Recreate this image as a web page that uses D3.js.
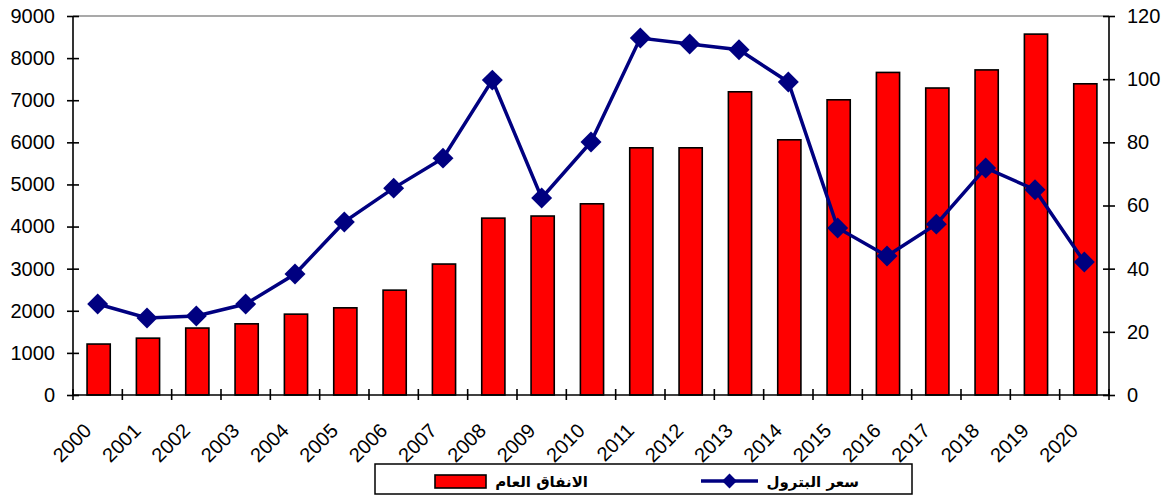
<!DOCTYPE html>
<html><head><meta charset="utf-8">
<script src="https://cdn.jsdelivr.net/npm/d3@7"></script>
<style>
html,body{margin:0;padding:0;background:#fff;}
svg{display:block;}
.tk text{font-family:"Liberation Sans",Arial,sans-serif;font-size:20px;fill:#000;}
</style></head>
<body>
<svg id="c" width="1166" height="495"></svg>
<script>
const years = ["2000","2001","2002","2003","2004","2005","2006","2007","2008","2009","2010","2011","2012","2013","2014","2015","2016","2017","2018","2019","2020"];
const spending = [1210,1350,1590,1690,1920,2070,2490,3110,4200,4250,4540,5870,5870,7200,6060,7010,7660,7290,7720,8570,7390];
const oilPrice = [28.8,24.4,25.0,28.8,38.3,54.8,65.5,75.0,99.7,62.4,80.1,113.0,111.1,109.3,99.1,52.9,44.0,54.1,71.9,65.0,42.1];
const leftTicks = [0,1000,2000,3000,4000,5000,6000,7000,8000,9000];
const rightTicks = [0,20,40,60,80,100,120];
const legendLabels = ["الانفاق العام","سعر البترول"];

const L = 73, R = 1109, T = 16, B = 395;
const svg = d3.select("#c");
const x = d3.scaleBand().domain(years).range([L, R]);
const yL = d3.scaleLinear().domain([0, 9000]).range([B, T]);
const yR = d3.scaleLinear().domain([0, 120]).range([B, T]);
const bw = x.bandwidth();

// top border
svg.append("line").attr("x1", L).attr("x2", R).attr("y1", T).attr("y2", T)
  .attr("stroke", "#8c8c8c").attr("stroke-width", 1.3);

// bars
svg.append("g").selectAll("rect").data(years).join("rect")
  .attr("x", d => x(d) + bw * 0.285)
  .attr("width", bw * 0.47)
  .attr("y", (d, i) => yL(spending[i]))
  .attr("height", (d, i) => B - yL(spending[i]))
  .attr("fill", "#ff0000").attr("stroke", "#000").attr("stroke-width", 1.6);

// line
const line = d3.line().x((d, i) => x(years[i]) + bw / 2).y(d => yR(d));
svg.append("path").datum(oilPrice).attr("d", line)
  .attr("fill", "none").attr("stroke", "#000080").attr("stroke-width", 3.5);
const diamond = d3.symbol().type(d3.symbolSquare).size(220);
svg.append("g").selectAll("path").data(oilPrice).join("path")
  .attr("d", diamond())
  .attr("transform", (d, i) => `translate(${x(years[i]) + bw / 2},${yR(d)}) rotate(45)`)
  .attr("fill", "#000080");

// left axis
const gl = svg.append("g").attr("class", "tk").attr("transform", `translate(${L},0)`)
  .call(d3.axisLeft(yL).tickValues(leftTicks).tickFormat(d3.format("d")).tickSize(6).tickPadding(12));
gl.select(".domain").attr("stroke", "#000").attr("stroke-width", 1.6).attr("d", `M0,${T}V${B}`);
gl.selectAll(".tick line").attr("x1", -6).attr("x2", 6).attr("stroke-width", 1.6);

// right axis
const gr = svg.append("g").attr("class", "tk").attr("transform", `translate(${R},0)`)
  .call(d3.axisRight(yR).tickValues(rightTicks).tickFormat(d3.format("d")).tickSize(6).tickPadding(12));
gr.select(".domain").attr("stroke", "#000").attr("stroke-width", 1.6).attr("d", `M0,${T}V${B}`);
gr.selectAll(".tick line").attr("x1", -6).attr("x2", 6).attr("stroke-width", 1.6);

// bottom axis
const gb = svg.append("g").attr("class", "tk");
gb.append("line").attr("x1", L).attr("x2", R).attr("y1", B).attr("y2", B)
  .attr("stroke", "#000").attr("stroke-width", 1.6);
gb.selectAll("line.t").data(years.map(d => x(d)).concat([R])).join("line").attr("class", "t")
  .attr("x1", d => d).attr("x2", d => d).attr("y1", B - 6).attr("y2", B + 5)
  .attr("stroke", "#000").attr("stroke-width", 1.6);
gb.selectAll("text").data(years).join("text")
  .attr("transform", d => `translate(${x(d) + bw / 2 - 5},${432}) rotate(-45)`)
  .attr("text-anchor", "end").text(d => d);

// legend
const lg = svg.append("g");
lg.append("rect").attr("x", 375).attr("y", 464).attr("width", 537).attr("height", 30)
  .attr("fill", "#fff").attr("stroke", "#000").attr("stroke-width", 1.5);
lg.append("rect").attr("x", 435).attr("y", 475).attr("width", 51).attr("height", 13)
  .attr("fill", "#ff0000").attr("stroke", "#000").attr("stroke-width", 1.6);
lg.append("text").attr("x", 588).attr("y", 487)
  .attr("font-family", "'DejaVu Sans','Noto Sans',sans-serif").attr("font-weight", "bold").attr("font-size", 15)
  .attr("direction", "rtl").attr("text-anchor", "start").text(legendLabels[0]);
lg.append("line").attr("x1", 701).attr("x2", 758).attr("y1", 481).attr("y2", 481)
  .attr("stroke", "#000080").attr("stroke-width", 3.5);
lg.append("path").attr("d", d3.symbol().type(d3.symbolSquare).size(110)())
  .attr("transform", "translate(729.5,481) rotate(45)").attr("fill", "#000080");
lg.append("text").attr("x", 859).attr("y", 487)
  .attr("font-family", "'DejaVu Sans','Noto Sans',sans-serif").attr("font-weight", "bold").attr("font-size", 15)
  .attr("direction", "rtl").attr("text-anchor", "start").text(legendLabels[1]);
</script>
</body></html>
